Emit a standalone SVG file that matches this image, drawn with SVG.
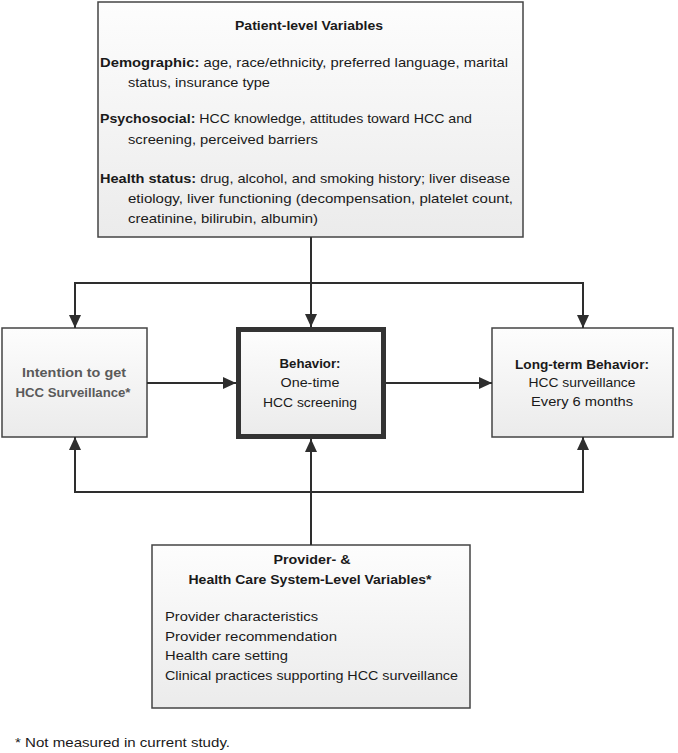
<svg xmlns="http://www.w3.org/2000/svg" width="678" height="753" viewBox="0 0 678 753">
<style>
text{font-family:"Liberation Sans",Arial,sans-serif;font-size:13.5px;fill:#1a1a1a}
.b{font-weight:bold}
.c{text-anchor:middle}
.g{fill:#5a5a5a;font-weight:bold}
.box{fill:url(#gr);stroke:#444;stroke-width:1.5}
.thick{fill:url(#gr);stroke:#333;stroke-width:5}
.ln{fill:none;stroke:#2e2e2e;stroke-width:2}
</style>
<defs>
<linearGradient id="gr" x1="0" y1="0" x2="0" y2="1">
<stop offset="0" stop-color="#fdfdfd"/>
<stop offset="1" stop-color="#ebebeb"/>
</linearGradient>
<marker id="ah" markerUnits="userSpaceOnUse" markerWidth="14" markerHeight="14" viewBox="0 0 14 14" refX="13" refY="7" orient="auto">
<path d="M0,1 L13,7 L0,13 Z" fill="#2e2e2e"/>
</marker>
</defs>
<rect width="678" height="753" fill="#fff"/>
<g id="patient">
<rect class="box" x="98" y="2" width="425" height="235"/>
<text class="b c" x="309" y="30" textLength="148" lengthAdjust="spacingAndGlyphs">Patient-level Variables</text>
<text x="100" y="67" textLength="408" lengthAdjust="spacingAndGlyphs"><tspan class="b">Demographic:</tspan> age, race/ethnicity, preferred language, marital</text>
<text x="128" y="87" textLength="142" lengthAdjust="spacingAndGlyphs">status, insurance type</text>
<text x="100" y="123" textLength="372" lengthAdjust="spacingAndGlyphs"><tspan class="b">Psychosocial:</tspan> HCC knowledge, attitudes toward HCC and</text>
<text x="128" y="144" textLength="190" lengthAdjust="spacingAndGlyphs">screening, perceived barriers</text>
<text x="100" y="183" textLength="410" lengthAdjust="spacingAndGlyphs"><tspan class="b">Health status:</tspan> drug, alcohol, and smoking history; liver disease</text>
<text x="128" y="203" textLength="385" lengthAdjust="spacingAndGlyphs">etiology, liver functioning (decompensation, platelet count,</text>
<text x="128" y="223" textLength="190" lengthAdjust="spacingAndGlyphs">creatinine, bilirubin, albumin)</text>
</g>
<g id="intention">
<rect class="box" x="2" y="328" width="145" height="109"/>
<text class="g c" x="74" y="377" textLength="104" lengthAdjust="spacingAndGlyphs">Intention to get</text>
<text class="g c" x="73" y="397" textLength="115" lengthAdjust="spacingAndGlyphs">HCC Surveillance*</text>
</g>
<g id="behavior">
<rect class="thick" x="238.5" y="329.5" width="145" height="107"/>
<text class="b c" x="310" y="368" textLength="61" lengthAdjust="spacingAndGlyphs">Behavior:</text>
<text class="c" x="310" y="387" textLength="59" lengthAdjust="spacingAndGlyphs">One-time</text>
<text class="c" x="310" y="407" textLength="94" lengthAdjust="spacingAndGlyphs">HCC screening</text>
</g>
<g id="longterm">
<rect class="box" x="492" y="328" width="181" height="109"/>
<text class="b c" x="582" y="369" textLength="134" lengthAdjust="spacingAndGlyphs">Long-term Behavior:</text>
<text class="c" x="582" y="387" textLength="107" lengthAdjust="spacingAndGlyphs">HCC surveillance</text>
<text class="c" x="582" y="406" textLength="102" lengthAdjust="spacingAndGlyphs">Every 6 months</text>
</g>
<g id="provider">
<rect class="box" x="152" y="545" width="318" height="163"/>
<text class="b c" x="312" y="564" textLength="77" lengthAdjust="spacingAndGlyphs">Provider- &amp;</text>
<text class="b c" x="310" y="584" textLength="243" lengthAdjust="spacingAndGlyphs">Health Care System-Level Variables*</text>
<text x="165" y="621" textLength="153" lengthAdjust="spacingAndGlyphs">Provider characteristics</text>
<text x="165" y="641" textLength="172" lengthAdjust="spacingAndGlyphs">Provider recommendation</text>
<text x="165" y="660" textLength="123" lengthAdjust="spacingAndGlyphs">Health care setting</text>
<text x="165" y="680" textLength="293" lengthAdjust="spacingAndGlyphs">Clinical practices supporting HCC surveillance</text>
</g>
<g id="connectors">
<line class="ln" x1="311" y1="237" x2="311" y2="327" marker-end="url(#ah)"/>
<polyline class="ln" points="75,328 75,283 583,283 583,328"/>
<line class="ln" x1="75" y1="283" x2="75" y2="328" marker-end="url(#ah)"/>
<line class="ln" x1="583" y1="283" x2="583" y2="328" marker-end="url(#ah)"/>
<line class="ln" x1="147" y1="383" x2="236" y2="383" marker-end="url(#ah)"/>
<line class="ln" x1="386" y1="383" x2="492" y2="383" marker-end="url(#ah)"/>
<line class="ln" x1="311" y1="545" x2="311" y2="439" marker-end="url(#ah)"/>
<polyline class="ln" points="75,437 75,492 583,492 583,437"/>
<line class="ln" x1="75" y1="492" x2="75" y2="437" marker-end="url(#ah)"/>
<line class="ln" x1="583" y1="492" x2="583" y2="437" marker-end="url(#ah)"/>
</g>
<text x="15" y="747" textLength="215" lengthAdjust="spacingAndGlyphs">* Not measured in current study.</text>
</svg>
